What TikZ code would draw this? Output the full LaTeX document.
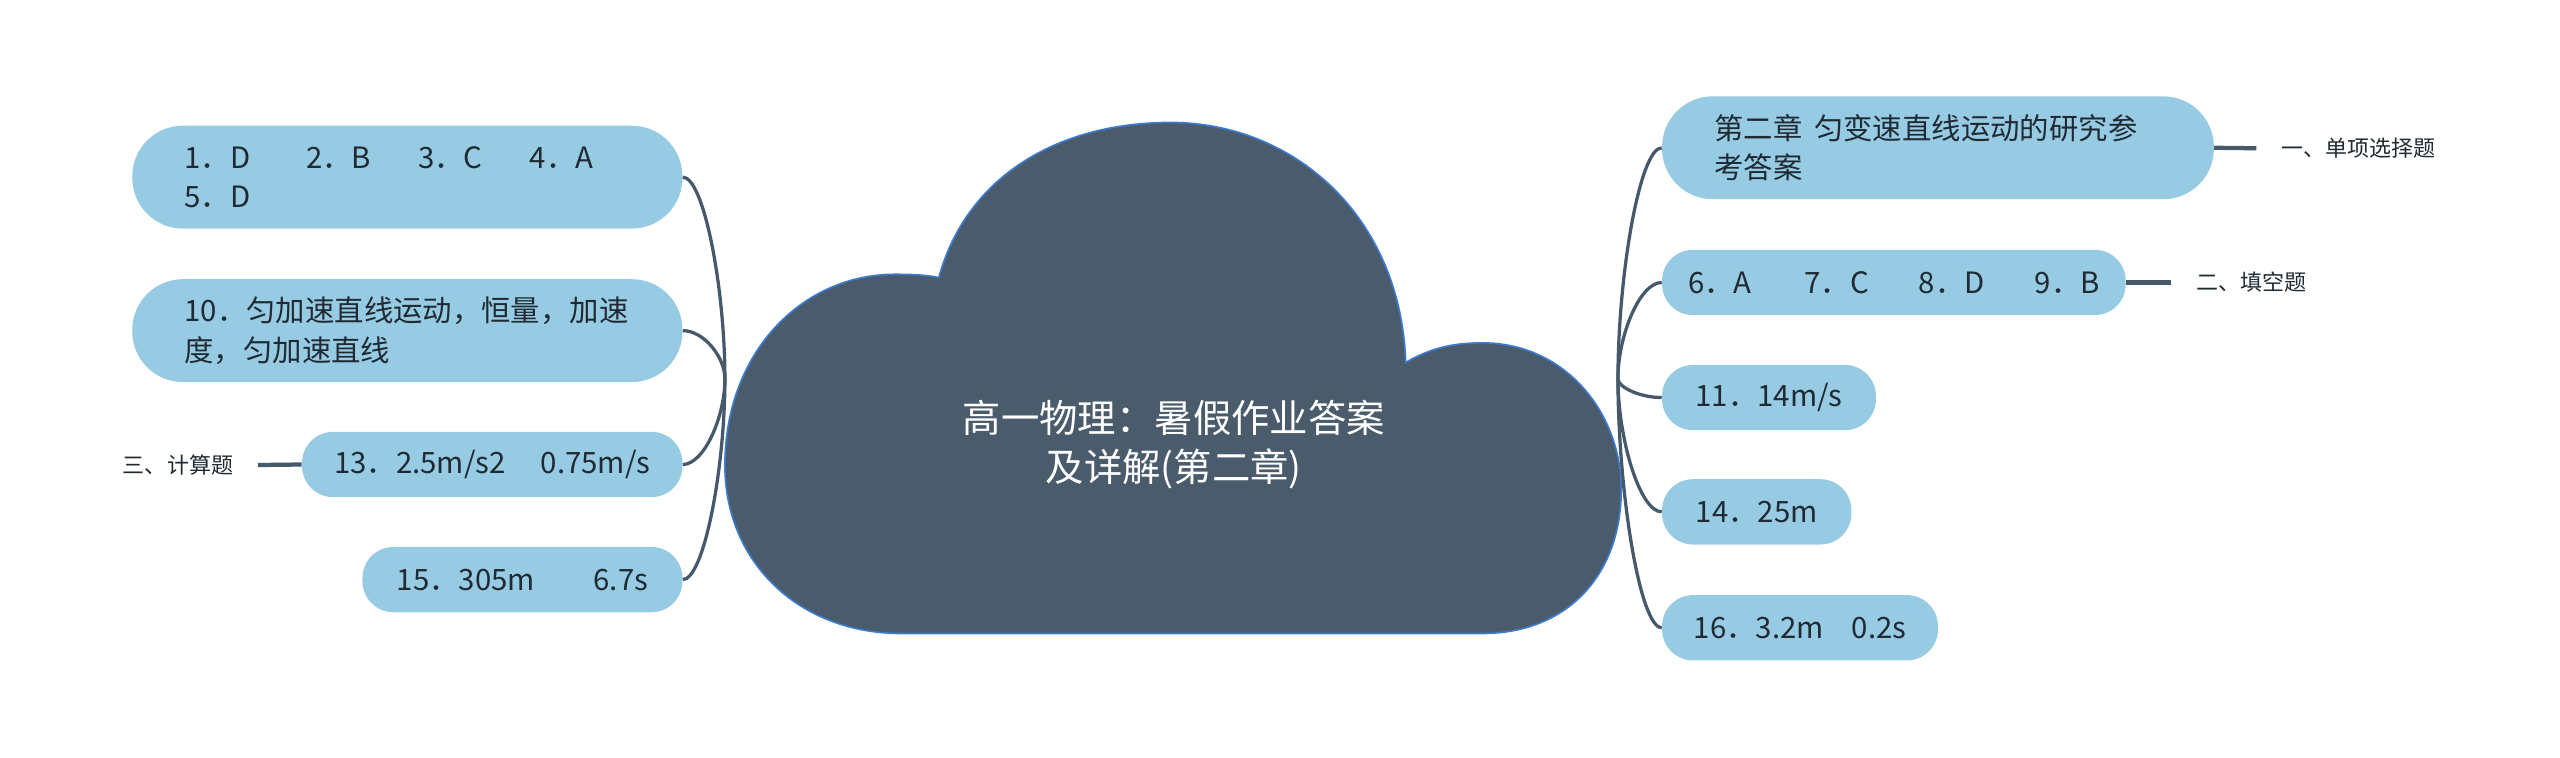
\documentclass[tikz,border=0pt]{standalone}
\usepackage{fontspec}
\setmainfont{Noto Sans CJK SC}
\usetikzlibrary{calc,positioning}
\definecolor{cloudfill}{HTML}{4A5B6B}
\definecolor{cloudline}{HTML}{3D7BD0}
\definecolor{boxfill}{HTML}{97CBE3}
\definecolor{linkcol}{HTML}{46596A}
\definecolor{inkcol}{HTML}{1F2A33}

\begin{document}
\begin{tikzpicture}[x=1pt,y=-1pt,
	answer/.style={fill=boxfill,text=inkcol,font=\fontsize{18}{24}\selectfont,rounded corners=19pt,inner sep=0pt,minimum height=40pt},
	twoline/.style={answer,rounded corners=31pt,minimum height=63pt,inner xsep=32pt,align=left},
	tag/.style={text=inkcol,font=\fontsize{13.5}{16}\selectfont,inner sep=0pt},
	link/.style={draw=linkcol,line width=2pt},
	taglink/.style={draw=linkcol,line width=2.6pt,shorten >=15pt}]
	\useasboundingbox (0,0) rectangle (1568,464);
	% cloud
	\draw[fill=cloudfill,draw=cloudline,line width=1pt] (575,170)
		.. controls (592,108) and (648,75) .. (717,75)
		.. controls (792,75) and (858,132) .. (861,222)
		.. controls (878,212) and (893,210) .. (908,210)
		.. controls (958,210) and (993,252) .. (993,300)
		.. controls (993,352) and (960,388) .. (908,388)
		-- (552,388)
		.. controls (490,388) and (444,345) .. (444,285)
		.. controls (444,215) and (492,168) .. (548,168)
		.. controls (560,168) and (568,168.5) .. (575,170) -- cycle;
	\node[text=white,font=\fontsize{23.5}{30}\selectfont,align=center] (title) at (719,272) {高一物理：暑假作业答案\\及详解(第二章)};
	\coordinate (hubL) at (444,232);
	\coordinate (hubR) at (991,232);
	
	% left branch
	\node[twoline,text width=273pt] (q1) at (249.5,108.5) {1．D\hspace{1.9em}2．B\hspace{1.6em}3．C\hspace{1.6em}4．A\\5．D};
	\node[twoline,text width=273pt] (q10) at (249.5,202.5) {10．匀加速直线运动，恒量，加速\\度，匀加速直线};
	\node[answer,minimum width=233pt] (q13) at (301.5,284.5) {13．2.5m/s2\hspace{1.2em}0.75m/s};
	\node[answer,minimum width=196pt] (q15) at (320,355) {15．305m\hspace{2em}6.7s};
	\node[tag,anchor=east] (calc) at (143,285) {三、计算题};
	
	% right branch
	\node[twoline,text width=274pt] (head) at (1187,90.5) {第二章\hspace{0.4em}匀变速直线运动的研究参\\考答案};
	\node[answer,minimum width=284pt] (q6) at (1160,173) {6．A\hspace{1.8em}7．C\hspace{1.7em}8．D\hspace{1.7em}9．B};
	\node[answer,minimum width=131pt] (q11) at (1083.5,243.5) {11．14m/s};
	\node[answer,minimum width=116pt] (q14) at (1076,313.5) {14．25m};
	\node[answer,minimum width=169pt] (q16) at (1102.5,384.5) {16．3.2m\hspace{0.95em}0.2s};
	\node[tag,anchor=west] (single) at (1397,91) {一、单项选择题};
	\node[tag,anchor=west] (blank) at (1345,173) {二、填空题};
	
	\foreach \n in {q1,q10,q13,q15}
		\draw[link] (hubL) .. controls ($(hubL)!0.45!(hubL|-\n.east)$) and ($(\n.east)!0.5!(\n.east-|hubL)$) .. (\n.east);
	\foreach \n in {head,q6,q11,q14,q16}
		\draw[link] (hubR) .. controls ($(hubR)!0.45!(hubR|-\n.west)$) and ($(\n.west)!0.5!(\n.west-|hubR)$) .. (\n.west);
	\draw[taglink] (q13.west) -- (calc.east);
	\draw[taglink] (head.east) -- (single.west);
	\draw[taglink] (q6.east) -- (blank.west);
\end{tikzpicture}
\end{document}
